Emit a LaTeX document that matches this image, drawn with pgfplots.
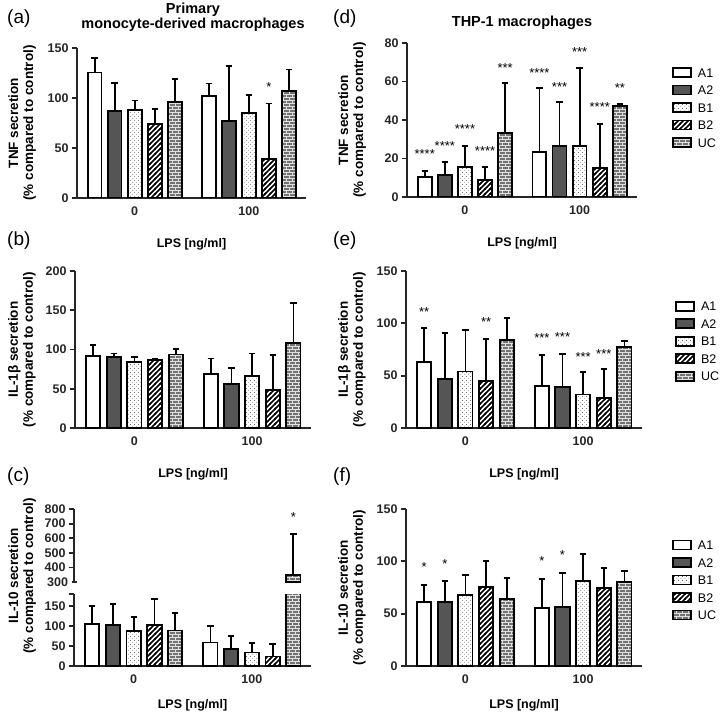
\documentclass[border=0pt]{standalone}
\usepackage{pgfplots}
\pgfplotsset{compat=1.18}
\usepackage{fontspec}
\setmainfont{Liberation Sans}
\usetikzlibrary{patterns}

\definecolor{gA2}{RGB}{85,85,85}
\definecolor{gUC}{RGB}{115,115,115}

% GraphPad-like fills
\pgfdeclarepatternformonly{gpdots}{\pgfqpoint{0pt}{0pt}}{\pgfqpoint{4pt}{4pt}}{\pgfqpoint{4pt}{4pt}}{%
  \pgfpathcircle{\pgfqpoint{1pt}{1pt}}{0.5pt}%
  \pgfpathcircle{\pgfqpoint{3pt}{3pt}}{0.5pt}%
  \pgfusepath{fill}}
\pgfdeclarepatternformonly{gpstripes}{\pgfqpoint{-1pt}{-1pt}}{\pgfqpoint{6pt}{6pt}}{\pgfqpoint{5pt}{5pt}}{%
  \pgfsetlinewidth{1.7pt}%
  \pgfpathmoveto{\pgfqpoint{-1pt}{-1pt}}\pgfpathlineto{\pgfqpoint{6pt}{6pt}}%
  \pgfusepath{stroke}}
\pgfdeclarepatternformonly{gpbricks}{\pgfqpoint{-0.5pt}{-0.5pt}}{\pgfqpoint{6.5pt}{6.5pt}}{\pgfqpoint{6pt}{6pt}}{%
  \pgfsetlinewidth{0.7pt}%
  \pgfpathmoveto{\pgfqpoint{0pt}{1pt}}\pgfpathlineto{\pgfqpoint{6pt}{1pt}}%
  \pgfpathmoveto{\pgfqpoint{0pt}{4pt}}\pgfpathlineto{\pgfqpoint{6pt}{4pt}}%
  \pgfpathmoveto{\pgfqpoint{1.5pt}{1pt}}\pgfpathlineto{\pgfqpoint{1.5pt}{4pt}}%
  \pgfpathmoveto{\pgfqpoint{4.5pt}{4pt}}\pgfpathlineto{\pgfqpoint{4.5pt}{7pt}}%
  \pgfusepath{stroke}}

% one-sided error bar with a cap, drawn heavy
\pgfplotsset{error bars/draw error bar/.code 2 args={%
  \draw[black, line width=1.8pt] #1 -- #2 ++(-3.2pt,0pt) -- ++(6.4pt,0pt);}}

\pgfplotsset{
  gp/.style={
    scale only axis,
    axis x line*=bottom, axis y line*=left,
    axis line style={line width=1.8pt, black!85, -},
    tick style={line width=1.8pt, black!85},
    xtick style={draw=none},
    tick align=outside, major tick length=5pt,
    xmin=-0.88, xmax=10.55,
    xtick={2,7.7}, xticklabels={0,100},
    ymin=0,
    tick label style={font=\fontsize{12.5}{14}\selectfont\bfseries, black!85},
    /pgf/number format/assume math mode=true,
    xlabel={LPS [ng/ml]},
    xlabel style={font=\fontsize{12.5}{15}\selectfont\bfseries, at={(axis description cs:0.5,0)}, anchor=base, yshift=-49pt},
    ylabel style={font=\fontsize{13.5}{15}\selectfont\bfseries, align=center, anchor=center},
    legend image code/.code={\draw[##1] (0pt,-3.5pt) rectangle (18pt,5.5pt);},
    legend style={draw=none, fill=none, anchor=north west, inner sep=0pt,
      font=\fontsize{12.5}{15}\selectfont, row sep=5pt,
      nodes={inner sep=1pt},
      /tikz/every odd column/.append style={column sep=5pt}},
    legend cell align=left,
  },
  gpbar/.style={ybar, bar width=0.69, bar shift=0pt, draw=black, line width=1.8pt,
    error bars/y dir=plus, error bars/y explicit},
  sA1/.style={gpbar, fill=white},
  sA2/.style={gpbar, fill=gA2},
  sB1/.style={gpbar, preaction={fill=white}, pattern=gpdots, pattern color=black!75},
  sB2/.style={gpbar, preaction={fill=white}, pattern=gpstripes, pattern color=black},
  sUC/.style={gpbar, preaction={fill=gUC}, pattern=gpbricks, pattern color=white!88!black},
}
\tikzset{sig/.style={font=\fontsize{13}{13}\selectfont, anchor=base, yshift=-7.5pt, inner sep=0pt}}

\begin{document}
\begin{tikzpicture}[x=1pt,y=1pt]
\useasboundingbox (0,0) rectangle (723,-719);

% (a) primary, TNF
\begin{axis}[gp, at={(77pt,-198pt)}, anchor=south west, width=229pt, height=150pt,
  ymax=150, ytick={0,50,100,150},
  ylabel={TNF secretion\\(\% compared to control)},
  ylabel style={at={(axis description cs:-0.240,0.5)}}]
\addplot[sA1] coordinates {(0,125.5) +- (0,14.5) (5.7,102) +- (0,12.5)};
\addplot[sA2] coordinates {(1,87) +- (0,28) (6.7,77) +- (0,55)};
\addplot[sB1] coordinates {(2,88) +- (0,9.4) (7.7,85) +- (0,18)};
\addplot[sB2] coordinates {(3,73.7) +- (0,15.3) (8.7,39) +- (0,55.4)};
\addplot[sUC] coordinates {(4,96) +- (0,23) (9.7,107) +- (0,21.5)};
\node[sig] at (axis cs:8.7,113.8) {*};
\end{axis}

% (b) primary, IL-1beta
\begin{axis}[gp, at={(75pt,-428pt)}, anchor=south west, width=236pt, height=157pt,
  ymax=200, ytick={0,50,100,150,200},
  ylabel={IL-1β secretion\\(\% compared to control)},
  ylabel style={at={(axis description cs:-0.225,0.5)}}]
\addplot[sA1] coordinates {(0,92) +- (0,14) (5.7,68.5) +- (0,20)};
\addplot[sA2] coordinates {(1,90) +- (0,5) (6.7,56) +- (0,20)};
\addplot[sB1] coordinates {(2,84) +- (0,6) (7.7,66) +- (0,29)};
\addplot[sB2] coordinates {(3,86.8) +- (0,1) (8.7,48) +- (0,45)};
\addplot[sUC] coordinates {(4,93.6) +- (0,7.4) (9.7,108) +- (0,51)};
\end{axis}

% (c) primary, IL-10, lower segment
\begin{axis}[gp, at={(74pt,-666pt)}, anchor=south west, width=237pt, height=72pt,
  ymax=180, ytick={0,50,100,150,180}, yticklabels={0,50,100,150,{}},
  xlabel style={yshift=7pt},
  ylabel={IL-10 secretion\\(\% compared to control)},
  ylabel style={at={(axis description cs:-0.219,1.25)}}]
\addplot[sA1] coordinates {(0,106) +- (0,45) (5.7,59) +- (0,42)};
\addplot[sA2] coordinates {(1,102) +- (0,53) (6.7,42) +- (0,33)};
\addplot[sB1] coordinates {(2,87.5) +- (0,35.5) (7.7,34) +- (0,23.5)};
\addplot[sB2] coordinates {(3,103) +- (0,64) (8.7,24) +- (0,31)};
\addplot[sUC] coordinates {(4,89) +- (0,44) (9.7,346) +- (0,283)};
\end{axis}
% (c) upper segment
\begin{axis}[gp, at={(74pt,-582pt)}, anchor=south west, width=237pt, height=73pt,
  axis x line=none, xlabel={},
  ymin=300, ymax=800, ytick={400,500,600,700,800},
  extra y ticks={300}, extra y tick style={tick align=center}]
\addplot[sUC] coordinates {(9.7,346) +- (0,283)};
\node[sig] at (axis cs:9.7,768) {*};
\end{axis}

% (d) THP-1, TNF
\begin{axis}[gp, at={(407pt,-197pt)}, anchor=south west, width=230pt, height=154pt,
  ymax=80, ytick={0,20,40,60,80},
  ylabel={TNF secretion\\(\% compared to control)},
  ylabel style={at={(axis description cs:-0.239,0.5)}},
  legend style={at={(axis description cs:1.152,0.844)}}]
\addplot[sA1] coordinates {(0,10.4) +- (0,3.3) (5.7,23.2) +- (0,33.6)};
\addlegendentry{A1}
\addplot[sA2] coordinates {(1,11.6) +- (0,6.6) (6.7,26.3) +- (0,22.9)};
\addlegendentry{A2}
\addplot[sB1] coordinates {(2,15.4) +- (0,11.3) (7.7,26.3) +- (0,40.7)};
\addlegendentry{B1}
\addplot[sB2] coordinates {(3,9) +- (0,6.4) (8.7,14.9) +- (0,23.1)};
\addlegendentry{B2}
\addplot[sUC] coordinates {(4,33.2) +- (0,26) (9.7,47.1) +- (0,1.4)};
\addlegendentry{UC}
\node[sig] at (axis cs:0,23.7) {****};
\node[sig] at (axis cs:1,28) {****};
\node[sig] at (axis cs:2,37) {****};
\node[sig] at (axis cs:3,25.5) {****};
\node[sig] at (axis cs:4,68.7) {***};
\node[sig] at (axis cs:5.7,66) {****};
\node[sig] at (axis cs:6.7,58.7) {***};
\node[sig] at (axis cs:7.7,77) {***};
\node[sig] at (axis cs:8.7,48.3) {****};
\node[sig] at (axis cs:9.7,58.4) {**};
\end{axis}

% (e) THP-1, IL-1beta
\begin{axis}[gp, at={(406pt,-428pt)}, anchor=south west, width=236pt, height=157pt,
  ymax=150, ytick={0,50,100,150},
  ylabel={IL-1β secretion\\(\% compared to control)},
  ylabel style={at={(axis description cs:-0.229,0.5)}},
  legend style={at={(axis description cs:1.14,0.81)}}]
\addplot[sA1] coordinates {(0,63) +- (0,32.5) (5.7,40) +- (0,30)};
\addlegendentry{A1}
\addplot[sA2] coordinates {(1,46.8) +- (0,44) (6.7,39) +- (0,32)};
\addlegendentry{A2}
\addplot[sB1] coordinates {(2,54) +- (0,40) (7.7,32) +- (0,21.5)};
\addlegendentry{B1}
\addplot[sB2] coordinates {(3,44.6) +- (0,40.4) (8.7,29) +- (0,27)};
\addlegendentry{B2}
\addplot[sUC] coordinates {(4,83.8) +- (0,21.2) (9.7,77.4) +- (0,5.6)};
\addlegendentry{UC}
\node[sig] at (axis cs:0,114) {**};
\node[sig] at (axis cs:3,103.8) {**};
\node[sig] at (axis cs:5.7,88.5) {***};
\node[sig] at (axis cs:6.7,90) {***};
\node[sig] at (axis cs:7.7,71) {***};
\node[sig] at (axis cs:8.7,73.6) {***};
\end{axis}

% (f) THP-1, IL-10
\begin{axis}[gp, at={(406pt,-666pt)}, anchor=south west, width=236pt, height=157pt,
  ymax=150, ytick={0,50,100,150},
  xlabel style={yshift=7pt},
  ylabel={IL-10 secretion\\(\% compared to control)},
  ylabel style={at={(axis description cs:-0.229,0.5)}},
  legend style={at={(axis description cs:1.127,0.806)}}]
\addplot[sA1] coordinates {(0,61) +- (0,16.4) (5.7,55.6) +- (0,27.9)};
\addlegendentry{A1}
\addplot[sA2] coordinates {(1,61.4) +- (0,20.1) (6.7,56.3) +- (0,32.9)};
\addlegendentry{A2}
\addplot[sB1] coordinates {(2,67.8) +- (0,19.2) (7.7,81.5) +- (0,25.3)};
\addlegendentry{B1}
\addplot[sB2] coordinates {(3,75.2) +- (0,24.8) (8.7,74.5) +- (0,19.2)};
\addlegendentry{B2}
\addplot[sUC] coordinates {(4,64.3) +- (0,20.1) (9.7,80) +- (0,10.8)};
\addlegendentry{UC}
\node[sig] at (axis cs:0,97.5) {*};
\node[sig] at (axis cs:1,100.7) {*};
\node[sig] at (axis cs:5.7,103) {*};
\node[sig] at (axis cs:6.7,108.7) {*};
\end{axis}

% titles and panel letters
\node[anchor=base, font=\fontsize{14.5}{17}\selectfont\bfseries, inner sep=0pt] at (193,-14) {Primary};
\node[anchor=base, font=\fontsize{14.5}{17}\selectfont\bfseries, inner sep=0pt] at (193,-28.5) {monocyte-derived macrophages};
\node[anchor=base, font=\fontsize{14.5}{17}\selectfont\bfseries, inner sep=0pt] at (522,-26.5) {THP-1 macrophages};
\foreach \l/\x/\y in {(a)/7/24, (b)/7/246, (c)/7/481, (d)/333/24, (e)/333/246, (f)/333/481}
  \node[anchor=base west, font=\fontsize{19}{22}\selectfont, inner sep=0pt] at (\x,-\y) {\l};
\end{tikzpicture}
\end{document}
